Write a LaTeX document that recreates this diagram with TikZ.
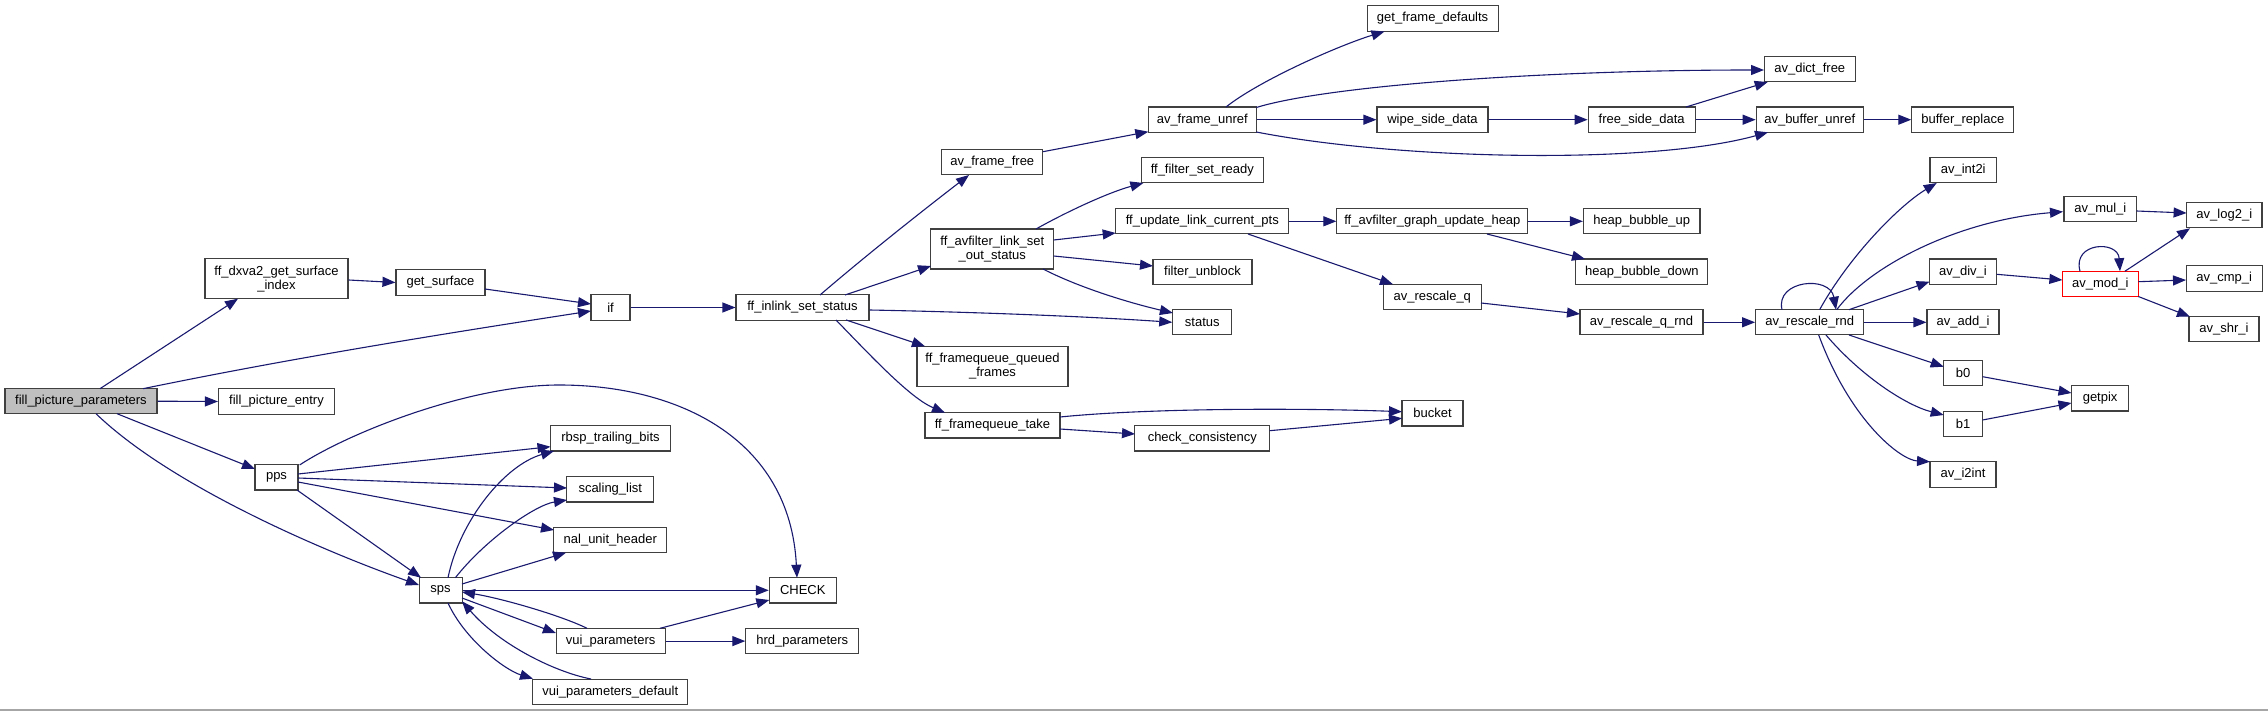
\documentclass[tikz,border=0pt]{standalone}
\usepackage{fontspec}
\setmainfont{Liberation Sans}
\usetikzlibrary{arrows.meta,calc}
\definecolor{boxgray}{HTML}{404040}
\definecolor{edgeblue}{HTML}{191970}
\definecolor{rootfill}{HTML}{BFBFBF}
\tikzset{
  fn/.style={draw=boxgray, line width=1.1pt, fill=white, inner sep=0pt, minimum height=25.3pt,
    font=\fontsize{13}{14}\selectfont, align=center, text=black},
  fn2/.style={fn, minimum height=40pt},
  e/.style={draw=edgeblue, line width=1.1pt, -{Triangle[length=13pt,width=10pt]}},
}
\begin{document}
\begin{tikzpicture}[x=1pt,y=-1pt]
\useasboundingbox (0,0) rectangle (2268,711);
\fill[white] (0,0) rectangle (2268,711);
\draw[gray!70, line width=2pt] (0,710) -- (2268,710);

% nodes
\node[fn, fill=rootfill, minimum width=152pt] (fpp) at (81,401.2) {fill\_picture\_parameters};
\node[fn2, minimum width=143pt] (dxva) at (276.5,278.7) {ff\_dxva2\_get\_surface\\\_index};
\node[fn, minimum width=116pt] (fpe) at (276.5,401.5) {fill\_picture\_entry};
\node[fn, minimum width=89pt] (gs) at (440.5,282.5) {get\_surface};
\node[fn, minimum width=39pt] (ifn) at (610.5,307.5) {if};
\node[fn, minimum width=133pt] (fis) at (802.5,307.5) {ff\_inlink\_set\_status};
\node[fn, minimum width=43pt] (pps) at (276.5,477.3) {pps};
\node[fn, minimum width=43pt] (sps) at (440.6,590.3) {sps};
\node[fn, minimum width=120pt] (rbsp) at (610.5,438.3) {rbsp\_trailing\_bits};
\node[fn, minimum width=87pt] (scl) at (610.3,489.3) {scaling\_list};
\node[fn, minimum width=113pt] (nal) at (610.3,539.8) {nal\_unit\_header};
\node[fn, minimum width=67pt] (check) at (802.8,590.3) {CHECK};
\node[fn, minimum width=109pt] (vui) at (610.6,641.1) {vui\_parameters};
\node[fn, minimum width=113pt] (hrd) at (802.3,641.1) {hrd\_parameters};
\node[fn, minimum width=155pt] (vuid) at (610.3,692) {vui\_parameters\_default};

\node[fn, minimum width=101pt] (aff) at (992.3,162.3) {av\_frame\_free};
\node[fn2, minimum width=123pt] (lso) at (992.3,249) {ff\_avfilter\_link\_set\\\_out\_status};
\node[fn2, minimum width=151pt] (fqq) at (992.5,366.3) {ff\_framequeue\_queued\\\_frames};
\node[fn, minimum width=135pt] (fqt) at (992.5,425.3) {ff\_framequeue\_take};
\node[fn, minimum width=108pt] (afu) at (1202.3,119.7) {av\_frame\_unref};
\node[fn, minimum width=122.5pt] (fsr) at (1202.3,170.3) {ff\_filter\_set\_ready};
\node[fn, minimum width=173pt] (ulc) at (1202.3,221.3) {ff\_update\_link\_current\_pts};
\node[fn, minimum width=99pt] (fub) at (1202.5,271.8) {filter\_unblock};
\node[fn, minimum width=59pt] (status) at (1202.3,322.3) {status};
\node[fn, minimum width=135pt] (cc) at (1202.3,438.3) {check\_consistency};
\node[fn, minimum width=131pt] (gfd) at (1432.6,18.5) {get\_frame\_defaults};
\node[fn, minimum width=111pt] (wsd) at (1432.5,119.7) {wipe\_side\_data};
\node[fn, minimum width=191pt] (guh) at (1432.4,221.3) {ff\_avfilter\_graph\_update\_heap};
\node[fn, minimum width=97.5pt] (arq) at (1432.3,297.1) {av\_rescale\_q};
\node[fn, minimum width=61pt] (bucket) at (1432.5,413.3) {bucket};
\node[fn, minimum width=90.5pt] (adf) at (1809.8,69.3) {av\_dict\_free};
\node[fn, minimum width=107pt] (fsd) at (1641.7,119.7) {free\_side\_data};
\node[fn, minimum width=107pt] (abu) at (1809.7,119.7) {av\_buffer\_unref};
\node[fn, minimum width=102pt] (br) at (1962.8,119.7) {buffer\_replace};
\node[fn, minimum width=116.5pt] (hbu) at (1641.7,221.3) {heap\_bubble\_up};
\node[fn, minimum width=132pt] (hbd) at (1641.9,271.7) {heap\_bubble\_down};
\node[fn, minimum width=123pt] (arqr) at (1641.5,322.3) {av\_rescale\_q\_rnd};
\node[fn, minimum width=108pt] (arr) at (1809.7,322.3) {av\_rescale\_rnd};
\node[fn, minimum width=66.5pt] (ai2) at (1963.2,170.3) {av\_int2i};
\node[fn, minimum width=67pt] (adv) at (1963,271.7) {av\_div\_i};
\node[fn, minimum width=72pt] (aad) at (1963,322.3) {av\_add\_i};
\node[fn, minimum width=39pt] (b0) at (1963.1,373.1) {b0};
\node[fn, minimum width=39pt] (b1) at (1963.1,423.7) {b1};
\node[fn, minimum width=66pt] (i2int) at (1963,474.5) {av\_i2int};
\node[fn, minimum width=72.6pt] (amul) at (2100.3,209.1) {av\_mul\_i};
\node[fn, draw=red, minimum width=76pt] (amod) at (2100.3,283.8) {av\_mod\_i};
\node[fn, minimum width=57pt] (getpix) at (2100.1,398.3) {getpix};
\node[fn, minimum width=75.4pt] (alog) at (2224.3,215.3) {av\_log2\_i};
\node[fn, minimum width=76pt] (acmp) at (2224.2,278.5) {av\_cmp\_i};
\node[fn, minimum width=70pt] (ashr) at (2224,329.3) {av\_shr\_i};

% edges - left part
\draw[e] ($(fpp.center)+(19,-12.5)$) -- ($(dxva.center)+(-38.5,20)$);
\draw[e] (fpp.east) -- (fpe.west);
\draw[e] ($(fpp.center)+(62,-12.5)$) .. controls (292,358) and (442,334) .. ($(ifn.center)+(-19.5,3.5)$);
\draw[e] ($(dxva.east)+(0,1.3)$) -- (gs.west);
\draw[e] ($(gs.center)+(44.5,6.5)$) -- ($(ifn.center)+(-19.5,-3.5)$);
\draw[e] (ifn.east) -- (fis.west);
\draw[e] ($(fis.center)+(17.5,-12.5)$) .. controls (870,252) and (930,205) .. ($(aff.center)+(-23.3,12.7)$);
\draw[e] ($(fis.center)+(42.5,-12.5)$) -- ($(lso.center)+(-61.3,17)$);
\draw[e] ($(fis.east)+(0,2.5)$) .. controls (970,312) and (1080,316) .. (status.west);
\draw[e] ($(fis.center)+(43.5,12.5)$) -- ($(fqq.center)+(-67.5,-20)$);
\draw[e] ($(fis.center)+(33.5,12.5)$) .. controls (870,355) and (910,398) .. ($(fqt.center)+(-47.5,-12.6)$);
\draw[e] ($(fpp.center)+(36,12.5)$) -- ($(pps.center)+(-21.5,-8.3)$);
\draw[e] ($(fpp.center)+(15,12.5)$) .. controls (170,485) and (320,550) .. ($(sps.center)+(-21.6,-5.3)$);
\draw[e] ($(pps.center)+(23.1,-12.3)$) .. controls (350,432) and (470,385) .. (559,385)
  .. controls (680,385) and (790,440) .. ($(check.center)+(-5.8,-12.6)$);
\draw[e] ($(pps.center)+(21.5,-3.3)$) -- ($(rbsp.center)+(-60,8.4)$);
\draw[e] ($(pps.center)+(21.5,0.7)$) -- ($(scl.center)+(-43.3,-1.3)$);
\draw[e] ($(pps.center)+(21.5,4.7)$) -- ($(nal.center)+(-56.3,-9.8)$);
\draw[e] ($(pps.center)+(20.5,12.7)$) -- ($(sps.center)+(-19.6,-12.6)$);
\draw[e] ($(sps.center)+(7.4,-12.6)$) .. controls (460,520) and (505,465) .. ($(rbsp.center)+(-56.5,12.7)$);
\draw[e] ($(sps.center)+(14.8,-12.6)$) .. controls (485,540) and (535,505) .. ($(scl.center)+(-43.3,10.7)$);
\draw[e] ($(sps.center)+(21.4,-6.3)$) -- ($(nal.center)+(-44.3,12.9)$);
\draw[e] (sps.east) -- (check.west);
\draw[e] ($(vui.center)+(49.4,-12.8)$) -- ($(check.center)+(-33.5,9.7)$);
\draw[e] (vui.east) -- (hrd.west);
\draw[e] ($(vui.center)+(-23.6,-12.8)$) .. controls (560,615) and (500,598) .. ($(sps.center)+(21.4,1.7)$);
\draw[e] ($(sps.center)+(21.4,7.7)$) -- ($(vui.center)+(-54.7,-8.1)$);
\draw[e] ($(sps.center)+(7.4,12.7)$) .. controls (465,640) and (505,670) .. ($(vuid.center)+(-77.3,-13.3)$);
\draw[e] ($(vuid.center)+(-19.3,-13)$) .. controls (555,672) and (500,645) .. ($(sps.center)+(21.4,11)$);

% edges - right part
\draw[e] ($(aff.center)+(50.7,-10.6)$) -- ($(afu.center)+(-54,12)$);
\draw[e] ($(afu.center)+(23.7,-12.7)$) .. controls (1260,80) and (1340,45) .. ($(gfd.center)+(-48.1,13)$);
\draw[e] ($(afu.center)+(54,-12.2)$) .. controls (1330,85) and (1550,70) .. ($(adf.west)+(0,0.7)$);
\draw[e] (afu.east) -- (wsd.west);
\draw[e] ($(afu.center)+(54,12.3)$) .. controls (1400,160) and (1650,165) .. ($(abu.center)+(-41.7,12.6)$);
\draw[e] (wsd.east) -- (fsd.west);
\draw[e] ($(fsd.center)+(44.3,-12.7)$) -- ($(adf.center)+(-42.1,12.7)$);
\draw[e] (fsd.east) -- (abu.west);
\draw[e] (abu.east) -- (br.west);
\draw[e] ($(lso.center)+(43.7,-20)$) .. controls (1070,210) and (1110,192) .. ($(fsr.center)+(-58.9,12.7)$);
\draw[e] ($(lso.center)+(61.4,-9)$) -- ($(ulc.center)+(-86.6,11.7)$);
\draw[e] ($(lso.center)+(61.4,7)$) -- ($(fub.center)+(-49.5,-5.8)$);
\draw[e] ($(lso.center)+(50.7,20)$) .. controls (1080,288) and (1130,303) .. ($(status.center)+(-29.4,-9.3)$);
\draw[e] (ulc.east) -- (guh.west);
\draw[e] ($(ulc.center)+(45.7,12.7)$) -- ($(arq.center)+(-39.3,-12.8)$);
\draw[e] (guh.east) -- (hbu.west);
\draw[e] ($(guh.center)+(54.6,12.7)$) -- ($(hbd.center)+(-56.9,-12.7)$);
\draw[e] ($(arq.center)+(48.7,5.9)$) -- ($(arqr.center)+(-61.5,-8.3)$);
\draw[e] (arqr.east) -- (arr.west);
\draw[e] ($(arr.center)+(-27.7,-12.6)$) .. controls (1775,280) and (1830,275) .. ($(arr.center)+(26.3,-12.6)$);
\draw[e] ($(arr.center)+(9.9,-12.6)$) .. controls (1850,255) and (1900,205) .. ($(ai2.center)+(-26.5,12.7)$);
\draw[e] ($(arr.center)+(27,-12.6)$) .. controls (1870,265) and (1960,220) .. ($(amul.center)+(-37.3,2.6)$);
\draw[e] ($(arr.center)+(39.3,-12.6)$) -- ($(adv.center)+(-33.5,10)$);
\draw[e] (arr.east) -- (aad.west);
\draw[e] ($(arr.center)+(39.3,12.7)$) -- ($(b0.center)+(-19.4,-6.4)$);
\draw[e] ($(arr.center)+(16.3,12.7)$) .. controls (1860,375) and (1905,405) .. ($(b1.center)+(-19.4,-8.7)$);
\draw[e] ($(arr.center)+(9,12.7)$) .. controls (1850,420) and (1900,460) .. ($(i2int.center)+(-33,-12.8)$);
\draw[e] ($(adv.center)+(33.6,2.6)$) -- ($(amod.center)+(-37.9,-3.8)$);
\draw[e] ($(amul.center)+(36.3,1.9)$) -- ($(alog.center)+(-37.7,-2.3)$);
\draw[e] ($(amod.center)+(-20.3,-12.6)$) .. controls (2072,242) and (2118,240) .. ($(amod.center)+(19.7,-12.6)$);
\draw[e] ($(amod.center)+(24.7,-12.6)$) -- ($(alog.center)+(-34.3,13)$);
\draw[e] ($(amod.center)+(38,-2.1)$) -- ($(acmp.center)+(-38.2,1.5)$);
\draw[e] ($(amod.center)+(38,12.7)$) -- ($(ashr.center)+(-34,-12.6)$);
\draw[e] ($(b0.center)+(19.5,3.6)$) -- ($(getpix.center)+(-28.6,-5.3)$);
\draw[e] ($(b1.center)+(19.5,-3.7)$) -- ($(getpix.center)+(-28.6,4.7)$);
\draw[e] ($(fqt.center)+(67.5,-8.3)$) .. controls (1150,408) and (1300,408) .. ($(bucket.center)+(-30.5,-1.6)$);
\draw[e] ($(fqt.center)+(67.5,3.7)$) -- ($(cc.center)+(-67.3,-4.3)$);
\draw[e] ($(cc.center)+(67.4,-7.6)$) -- ($(bucket.center)+(-30.5,5)$);
\end{tikzpicture}
\end{document}
